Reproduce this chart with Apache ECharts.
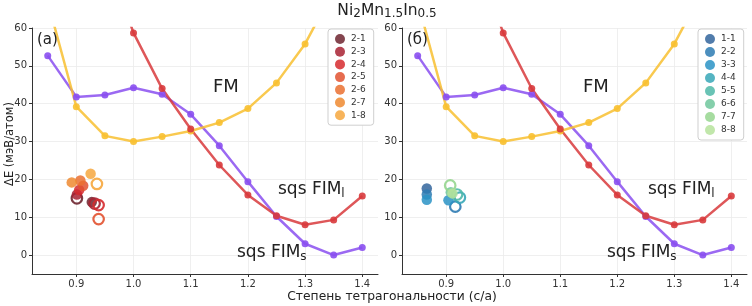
<!DOCTYPE html>
<html>
<head>
<meta charset="utf-8">
<script src="https://cdn.jsdelivr.net/npm/echarts@6/dist/echarts.min.js"></script>
<style>
  html, body { margin: 0; padding: 0; background: #fff; }
  #chart { width: 752px; height: 306px; }
</style>
</head>
<body>
<div id="chart"></div>
<script>
(function () {
  "use strict";

  var FONT = "DejaVu Sans";

  // ── Data ──
  var X_CA = [0.85, 0.90, 0.95, 1.00, 1.05, 1.10, 1.15, 1.20, 1.25, 1.30, 1.35, 1.40];
  var E_FIM_S = [52.7, 41.8, 42.3, 44.2, 42.5, 37.2, 28.9, 19.4, 10.2, 3.0, 0.0, 2.0];
  var E_FM = [67.0, 39.2, 31.5, 30.0, 31.3, 32.8, 35.0, 38.7, 45.5, 55.8, 70.0, 88.0];
  var E_FIM_L = [null, null, 80.0, 58.7, 44.0, 33.3, 23.8, 15.9, 10.4, 8.0, 9.3, 15.6];

  var X_TICKS = [0.9, 1.0, 1.1, 1.2, 1.3, 1.4];
  var Y_TICKS = [0, 10, 20, 30, 40, 50, 60];

  // panel (a): samples, filled and open markers
  var A_NAMES = ["2-1", "2-3", "2-4", "2-5", "2-6", "2-7", "1-8"];
  var A_SOLID = [
    [[0.927, 14.0]],
    [[0.901, 16.0]],
    [[0.905, 17.2]],
    [[0.912, 18.3]],
    [[0.907, 19.7]],
    [[0.892, 19.2]],
    [[0.925, 21.5]]
  ];
  var A_OPEN = [
    [[0.901, 15.0]],
    [[0.932, 13.6]],
    [[0.939, 13.2]],
    [[0.939, 9.5]],
    [],
    [],
    [[0.936, 18.8]]
  ];

  // panel (б)
  var B_NAMES = ["1-1", "2-2", "3-3", "4-4", "5-5", "6-6", "7-7", "8-8"];
  var B_SOLID = [
    [[0.866, 17.6]],
    [[0.866, 16.0]],
    [[0.866, 14.6], [0.904, 14.5]],
    [],
    [],
    [[0.908, 16.6]],
    [],
    [[0.911, 16.3]]
  ];
  var B_OPEN = [
    [],
    [[0.916, 12.8]],
    [],
    [[0.924, 15.2]],
    [[0.919, 16.0]],
    [],
    [[0.907, 18.4]],
    []
  ];

  var A_COLORS = ["#6e2630", "#a82232", "#d62a2e", "#e25230", "#ea7030", "#ef8a30", "#f6a73e"];
  var B_COLORS = ["#33659c", "#2d7bb3", "#2a93c6", "#37a7b7", "#4fb8a8", "#70c79c", "#96d68f", "#b6e39c"];

  var C_FIM_S = "#8a4ff0";
  var C_FM = "#f8c030";
  var C_FIM_L = "#d83a3c";

  function pairs(ys) {
    var out = [];
    for (var i = 0; i < X_CA.length; i++) out.push([X_CA[i], ys[i]]);
    return out;
  }

  function lineSeries(idx, ys, color) {
    return {
      type: "line",
      xAxisIndex: idx,
      yAxisIndex: idx,
      data: pairs(ys),
      clip: true,
      symbol: "circle",
      symbolSize: 7,
      lineStyle: { color: color, width: 2.5, opacity: 0.85 },
      itemStyle: { color: color, opacity: 0.9 },
      silent: true,
      z: 3
    };
  }

  function scatterSeries(idx, names, colors, solid, open) {
    var list = [];
    for (var i = 0; i < names.length; i++) {
      var data = [];
      for (var j = 0; j < solid[i].length; j++) {
        data.push({ value: solid[i][j] });
      }
      for (var k = 0; k < open[i].length; k++) {
        data.push({
          value: open[i][k],
          itemStyle: { color: "rgba(255,255,255,0)", borderColor: colors[i], borderWidth: 2.2, opacity: 0.9 }
        });
      }
      list.push({
        name: names[i],
        type: "scatter",
        xAxisIndex: idx,
        yAxisIndex: idx,
        symbol: "circle",
        symbolSize: 10.5,
        itemStyle: { color: colors[i], opacity: 0.85 },
        data: data,
        z: 4
      });
    }
    return list;
  }

  function xAxis(idx) {
    return {
      type: "value",
      gridIndex: idx,
      min: 0.8225,
      max: 1.4275,
      axisLine: { onZero: false, lineStyle: { color: "#333", width: 1 } },
      axisTick: { customValues: X_TICKS, length: 3, lineStyle: { color: "#333" } },
      axisLabel: {
        customValues: X_TICKS,
        color: "#333", fontFamily: FONT, fontSize: 10, margin: 5,
        formatter: function (v) { return v.toFixed(1); }
      },
      splitLine: { show: true, lineStyle: { color: "#ebebeb", width: 0.8 } }
    };
  }

  function yAxis(idx) {
    return {
      type: "value",
      gridIndex: idx,
      min: -5,
      max: 60,
      axisLine: { show: true, onZero: false, lineStyle: { color: "#333", width: 1 } },
      axisTick: { show: true, customValues: Y_TICKS, length: 3, lineStyle: { color: "#333" } },
      axisLabel: { customValues: Y_TICKS, color: "#333", fontFamily: FONT, fontSize: 10, margin: 5 },
      splitLine: { show: true, lineStyle: { color: "#ebebeb", width: 0.8 } }
    };
  }

  function legend(names, left, gap) {
    return {
      data: names,
      orient: "vertical",
      left: left,
      top: 29,
      icon: "circle",
      itemWidth: 12,
      itemHeight: 10,
      itemGap: gap,
      padding: [5, 8, 5, 7],
      backgroundColor: "#fff",
      borderColor: "#cfcfcf",
      borderWidth: 1,
      borderRadius: 3,
      textStyle: { fontFamily: FONT, fontSize: 9, color: "#333", lineHeight: 10 }
    };
  }

  function label(x, y, text, size, rich) {
    return {
      type: "text",
      x: x,
      y: y,
      silent: true,
      z: 10,
      style: {
        text: text,
        font: size + "px '" + FONT + "'",
        fill: "#222",
        align: "left",
        verticalAlign: "middle",
        rich: rich || {}
      }
    };
  }

  var SUB_BIG = { sub: { fontSize: 12, fontFamily: FONT, padding: [7, 0, 0, 0], fill: "#222" } };

  var series = []
    .concat([lineSeries(0, E_FIM_S, C_FIM_S), lineSeries(0, E_FM, C_FM), lineSeries(0, E_FIM_L, C_FIM_L)])
    .concat(scatterSeries(0, A_NAMES, A_COLORS, A_SOLID, A_OPEN))
    .concat([lineSeries(1, E_FIM_S, C_FIM_S), lineSeries(1, E_FM, C_FM), lineSeries(1, E_FIM_L, C_FIM_L)])
    .concat(scatterSeries(1, B_NAMES, B_COLORS, B_SOLID, B_OPEN));

  var chart = echarts.init(document.getElementById("chart"), null, { renderer: "canvas" });

  chart.setOption({
    animation: false,
    backgroundColor: "#fff",
    textStyle: { fontFamily: FONT },
    grid: [
      { left: 32, top: 28, width: 346, height: 246 },
      { left: 402, top: 28, width: 345, height: 246 }
    ],
    xAxis: [xAxis(0), xAxis(1)],
    yAxis: [yAxis(0), yAxis(1)],
    legend: [legend(A_NAMES, 328, 2.7), legend(B_NAMES, 698, 3.0)],
    graphic: [
      {
        type: "text", x: 387, y: 11, silent: true,
        style: {
          text: "Ni{s|2}Mn{s|1.5}In{s|0.5}",
          font: "15.5px '" + FONT + "'", fill: "#222",
          align: "center", verticalAlign: "middle",
          rich: { s: { fontSize: 12, fontFamily: FONT, padding: [5, 0, 0, 0], fill: "#222" } }
        }
      },
      {
        type: "text", x: 392, y: 297, silent: true,
        style: {
          text: "Степень тетрагональности (с/а)",
          font: "12.3px '" + FONT + "'", fill: "#222",
          align: "center", verticalAlign: "middle"
        }
      },
      {
        type: "text", x: 10, y: 144, rotation: Math.PI / 2, silent: true,
        style: {
          text: "ΔE (мэВ/атом)",
          font: "11.5px '" + FONT + "'", fill: "#222",
          align: "center", verticalAlign: "middle"
        }
      },
      label(37, 40, "(a)", 15),
      label(213, 87, "FM", 18),
      label(278, 190, "sqs FIM{sub|l}", 17, SUB_BIG),
      label(237, 253, "sqs FIM{sub|s}", 17, SUB_BIG),
      label(407, 40, "(б)", 15),
      label(583, 87, "FM", 18),
      label(648, 190, "sqs FIM{sub|l}", 17, SUB_BIG),
      label(607, 253, "sqs FIM{sub|s}", 17, SUB_BIG)
    ],
    series: series
  });
})();
</script>
</body>
</html>
